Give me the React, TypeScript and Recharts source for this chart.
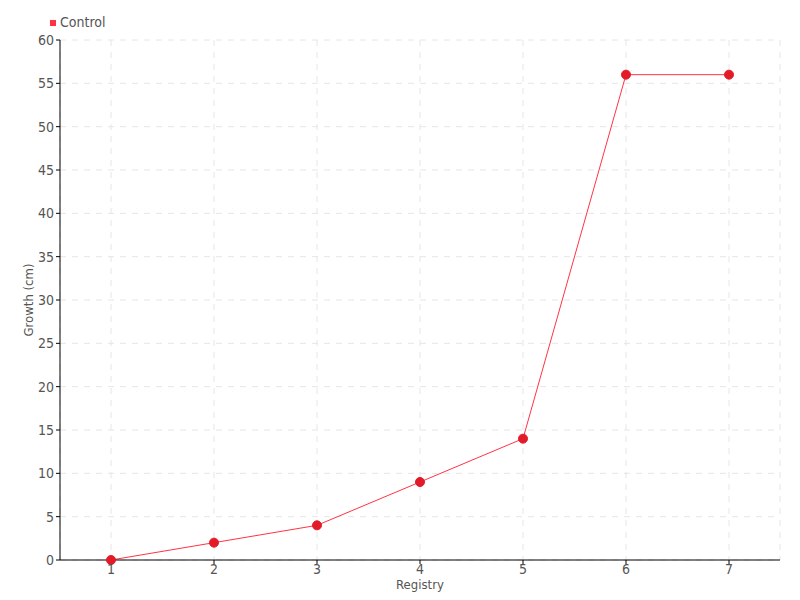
import React from 'react';
import { LineChart, Line, XAxis, YAxis, CartesianGrid, Legend } from 'recharts';

const categories = ['1', '2', '3', '4', '5', '6', '7'];
const controlValues = [0, 2, 4, 9, 14, 56, 56];
const yTicks = [0, 5, 10, 15, 20, 25, 30, 35, 40, 45, 50, 55, 60];

const data = categories.map((c, i) => ({ name: c, Control: controlValues[i] }));

const FONT = '"Liberation Sans Narrow", "DejaVu Sans Condensed", sans-serif';

export default function App() {
  return (
    <div style={{ position: 'absolute', left: 0, top: 0, width: 800, height: 600, background: '#fff', fontFamily: FONT }}>
      <LineChart width={800} height={600} data={data} margin={{ top: 24, right: 20, bottom: 0, left: 0 }}>
        <CartesianGrid stroke="#e6e6e6" strokeDasharray="6 6" />
        <XAxis
          dataKey="name"
          height={40}
          padding={{ left: 51, right: 51 }}
          stroke="#000"
          tick={{ fill: '#555', fontSize: 14, fontFamily: FONT }}
          tickSize={4}
          tickMargin={0}
          label={{ value: 'Registry', position: 'insideBottom', offset: 11, fill: '#555', fontSize: 13, fontFamily: FONT }}
        />
        <YAxis
          width={60}
          domain={[0, 60]}
          ticks={yTicks}
          interval={0}
          stroke="#000"
          tick={{ fill: '#555', fontSize: 14, fontFamily: FONT }}
          tickSize={4}
          tickMargin={2}
          label={{ value: 'Growth (cm)', angle: -90, position: 'insideLeft', offset: 28, fill: '#555', fontSize: 13, fontFamily: FONT, style: { textAnchor: 'middle' } }}
        />
        <Legend
          verticalAlign="top"
          align="left"
          iconType="square"
          iconSize={6}
          wrapperStyle={{ top: 14, left: 50, width: 'auto', fontSize: 14, fontFamily: FONT }}
          formatter={(v) => <span style={{ color: '#555' }}>{v}</span>}
        />
        <Line
          type="linear"
          dataKey="Control"
          stroke="#ff3344"
          strokeWidth={1}
          dot={{ r: 4.5, fill: '#e31a28', stroke: '#e31a28', strokeWidth: 1 }}
          activeDot={false}
          isAnimationActive={false}
        />
      </LineChart>
    </div>
  );
}
